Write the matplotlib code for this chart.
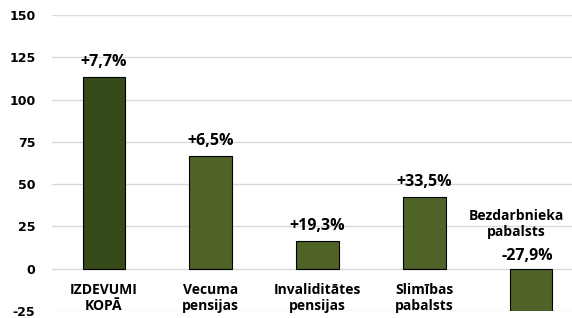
import matplotlib
matplotlib.use("Agg")
import matplotlib.pyplot as plt

categories = ["IZDEVUMI\nKOPĀ", "Vecuma\npensijas", "Invaliditātes\npensijas", "Slimības\npabalsts", "Bezdarbnieka\npabalsts"]
values = [113.5, 66.5, 16.5, 42.5, -25]
changes = ["+7,7%", "+6,5%", "+19,3%", "+33,5%", "-27,9%"]
colors = ["#374a19", "#4f6228", "#4f6228", "#4f6228", "#4f6228"]
yticks = [-25, 0, 25, 50, 75, 100, 125, 150]

plt.rcParams['font.family'] = ['Open Sans', 'DejaVu Sans']
fig = plt.figure(figsize=(5.72, 3.18), dpi=100)
ax = fig.add_axes([0.091, 0.022, 0.909, 0.931])

x = list(range(len(values)))
ax.bar(x, values, width=0.40, color=colors, edgecolor="black", linewidth=0.8, zorder=3)

ax.set_ylim(-25, 150)
ax.set_xlim(-0.486, 4.383)
ax.set_yticks(yticks)
ax.set_yticklabels([str(t) for t in yticks], fontsize=9, fontweight="bold", family="DejaVu Sans")
ax.set_xticks([])
ax.tick_params(axis="y", length=0, pad=12)
ax.grid(axis="y", color="#d9d9d9", linewidth=1, zorder=0)
for s in ax.spines.values():
    s.set_visible(False)

for i, (v, c, lab) in enumerate(zip(values, changes, categories)):
    if v >= 0:
        ax.text(i, v + 4, c, ha="center", va="bottom", fontsize=11.5, fontweight="bold")
        ax.text(i, -8.5, lab, ha="center", va="top", fontsize=10, fontweight="bold", linespacing=1.2)
    else:
        ax.text(i - 0.04, 3, c, ha="center", va="bottom", fontsize=11.5, fontweight="bold")
        ax.text(i - 0.14, 17.5, lab, ha="center", va="bottom", fontsize=10, fontweight="bold", linespacing=1.2)

fig.savefig("out.png", dpi=100)
